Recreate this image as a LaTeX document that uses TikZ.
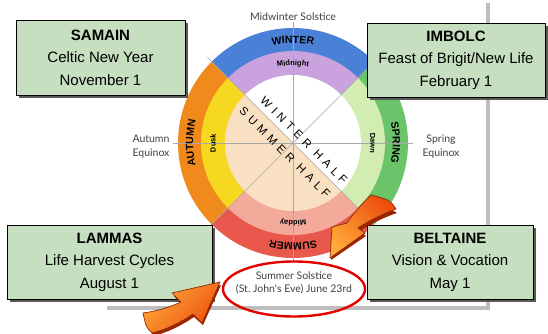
\documentclass[tikz,border=0pt]{standalone}
\usepackage{fontspec}
\setmainfont{Liberation Sans}
\newfontfamily\wheelfont{Lato}
\newfontfamily\halffont[LetterSpace=38]{Liberation Sans}
\usetikzlibrary{decorations.text,shadows,shapes.geometric}
\definecolor{winterc}{HTML}{4A80D6}
\definecolor{midnightc}{HTML}{C9A2DE}
\definecolor{autumnc}{HTML}{F08A1C}
\definecolor{duskc}{HTML}{F6D820}
\definecolor{springc}{HTML}{6CC46A}
\definecolor{dawnc}{HTML}{D2EDB2}
\definecolor{summerc}{HTML}{E8584C}
\definecolor{middayc}{HTML}{F4AA9A}
\definecolor{peachc}{HTML}{FAE0C2}
\definecolor{boxgreen}{HTML}{C6DFC0}
\definecolor{framegray}{HTML}{BDBDBD}
\definecolor{guidegray}{HTML}{A8A8A8}
\definecolor{arrowdark}{HTML}{8A2A00}
\definecolor{arrowred}{HTML}{EE4E0E}
\definecolor{arrowlight}{HTML}{FFAA3A}
\newcommand\sector[4]{\fill[#1] (C) -- ([shift={(#2:#4)}]C) arc[start angle=#2,end angle=#3,radius=#4] -- cycle;}
\newcommand\bandfontA{\bfseries\fontsize{10.5}{12}\selectfont}
\newcommand\bandfontB{\bfseries\fontsize{7.5}{9}\selectfont}
\newcommand\arctext[4]{\path[decorate,decoration={text along path,text align=center,text={#4}}] ([shift={(#2:#1)}]C) arc[start angle=#2,end angle=#3,radius=#1];}
\tikzset{
  guide/.style={draw=guidegray, line width=0.6pt},
  wlabel/.style={font=\wheelfont\fontsize{10.5}{13.5}\selectfont, text=black!75, inner sep=0pt},
  halftext/.style={font=\halffont\fontsize{11.5}{14}\selectfont, text=black, inner sep=0pt},
  infobox/.style={draw=black, line width=0.8pt, fill=boxgreen, align=center, inner sep=0pt,
    font=\fontsize{15}{22.5}\selectfont,
    drop shadow={shadow xshift=2.5pt, shadow yshift=-2.5pt, fill=black!65, opacity=1}},
  arrowbody/.style={draw=arrowdark, line width=0.7pt, left color=arrowlight, right color=arrowred},
  arrowside/.style={fill=arrowdark!85!red}
}
\begin{document}
\begin{tikzpicture}[x=1pt,y=1pt]
\useasboundingbox (0,0) rectangle (548,333);
\clip (0,0) rectangle (548,333);
\coordinate (C) at (293,190);
% page shadow frame
\draw[framegray, line width=4pt] (488,330) -- (488,25) -- (107,25);
% season bands
\sector{winterc}{45}{135}{115}
\sector{autumnc}{135}{225}{115}
\sector{summerc}{225}{315}{115}
\sector{springc}{-45}{45}{115}
% time-of-day bands
\sector{midnightc}{45}{135}{92}
\sector{duskc}{135}{225}{92}
\sector{middayc}{225}{315}{92}
\sector{dawnc}{-45}{45}{92}
% halves
\sector{white}{-45}{135}{68}
\sector{peachc}{135}{315}{68}
% guide lines
\draw[guide] (293,311) -- (293,71);
\draw[guide] (173,190) -- (413,190);
\draw[guide] ([shift={(45:116)}]C) -- ([shift={(225:116)}]C);
\draw[guide] ([shift={(135:121)}]C) -- ([shift={(315:110)}]C);
% band texts
\arctext{99.8}{135}{45}{|\bandfontA|WINTER}
\arctext{99.8}{45}{-45}{|\bandfontA|SPRING}
\arctext{99.8}{-45}{-135}{|\bandfontA|SUMMER}
\arctext{99.8}{225}{135}{|\bandfontA|AUTUMN}
\arctext{77.5}{135}{45}{|\bandfontB|Midnight}
\arctext{77.5}{45}{-45}{|\bandfontB|Dawn}
\arctext{77.5}{-45}{-135}{|\bandfontB|Midday}
\arctext{77.5}{225}{135}{|\bandfontB|Dusk}
% halves text
\node[halftext, rotate=-45] (winterhalf) at (304,192.5) {WINTER HALF};
\node[halftext, rotate=-45] (summerhalf) at (285,180.5) {SUMMER HALF};
% wheel labels
\node[wlabel] (midwinter) at (293,316) {Midwinter Solstice};
\node[wlabel, align=center] (autumneq) at (151,186.5) {Autumn\\Equinox};
\node[wlabel, align=center] (springeq) at (441,186.5) {Spring\\Equinox};
\node[draw=red!90!black, line width=2.4pt, ellipse, minimum width=142pt, minimum height=55pt, inner sep=0pt] (ring) at (294,44) {};
\node[wlabel, align=center] (summersol) at (294,50) {Summer Solstice\\(St.\ John's Eve) June 23rd};
% boxes
\node[infobox, minimum width=169pt, minimum height=75pt] (samain) at (100.5,275.5) {\textbf{SAMAIN}\\Celtic New Year\\November 1};
\node[infobox, minimum width=178pt, minimum height=74pt] (imbolc) at (456,273) {\textbf{IMBOLC}\\Feast of Brigit/New Life\\February 1};
\node[infobox, minimum width=205pt, minimum height=74pt] (lammas) at (109.5,71) {\textbf{LAMMAS}\\Life Harvest Cycles\\August 1};
\node[infobox, minimum width=166pt, minimum height=74pt] (beltaine) at (450,71) {\textbf{BELTAINE}\\Vision \& Vocation\\May 1};
% arrow 1 (upper right, pointing to the solstice)
\fill[arrowside] (372,135) .. controls (361,125) and (354,114) .. (349,107) -- (334,103) -- (331,73) -- (366,97) -- (360,102) .. controls (372,110) and (385,116) .. (397,120) -- cycle;
\path[arrowbody, shading angle=135] (371,138) .. controls (360,128) and (352,117) .. (347,110) -- (332,106) -- (330,75) -- (365,100) -- (358,105) .. controls (370,113) and (383,119) .. (396,124) .. controls (390,133) .. (371,138) -- cycle;
% arrow 2 (lower left, pointing to the solstice)
\fill[arrowside] (144,17) .. controls (159,19) and (171,23) .. (182,28) -- (174,37) -- (221,48) -- (203,8) -- (194,16) .. controls (181,7) and (166,0) .. (153,-3) -- cycle;
\path[arrowbody, shading angle=45] (143,20) .. controls (158,22) and (170,26) .. (181,31) -- (172,40) -- (220,51) -- (202,10) -- (193,19) .. controls (180,10) and (165,3) .. (152,0) .. controls (146,6) .. (143,20) -- cycle;
\end{tikzpicture}
\end{document}
